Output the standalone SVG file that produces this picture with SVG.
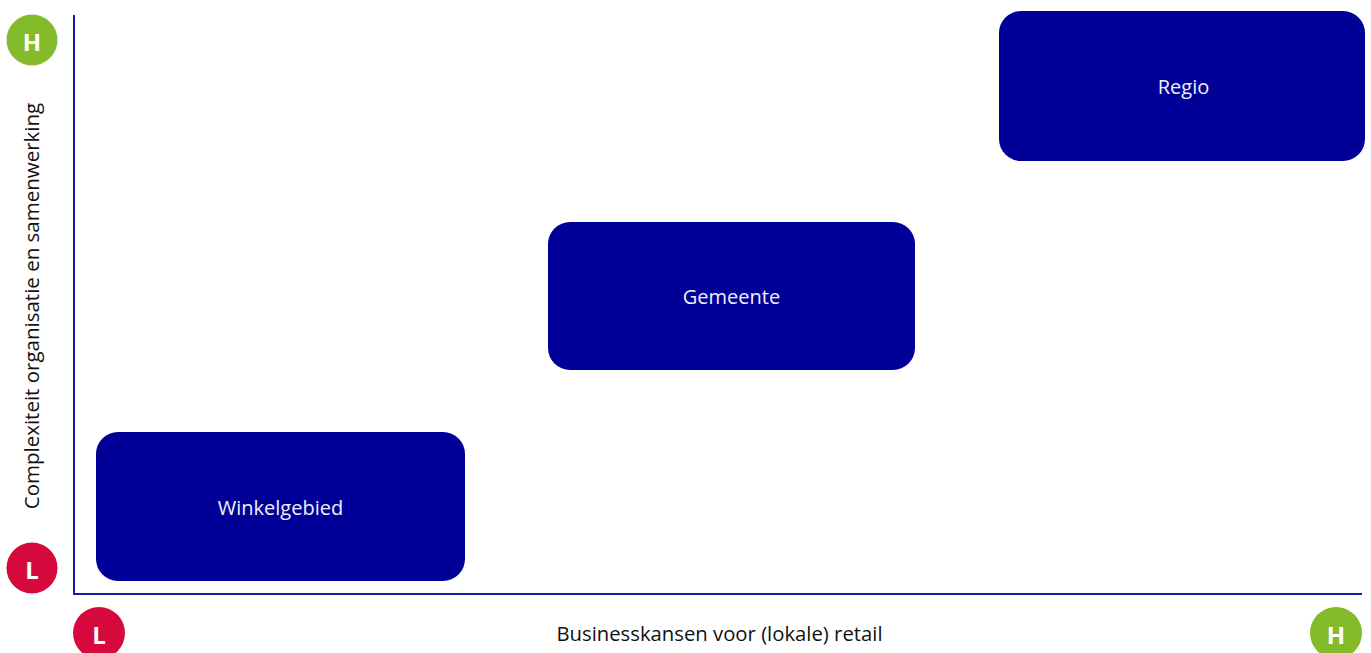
<svg xmlns="http://www.w3.org/2000/svg" width="1371" height="653" viewBox="0 0 1371 653">
  <style>
    .box { fill: #000099; }
    .box-label { font-family: "Open Sans", "Liberation Sans", sans-serif; font-size: 20px; fill: #f0f0f5; text-anchor: middle; dominant-baseline: central; }
    .axis { stroke: #1a1aa6; stroke-width: 2; fill: none; }
    .axis-label { font-family: "Open Sans", "Liberation Sans", sans-serif; font-size: 20px; fill: #111111; text-anchor: middle; }
    .hi { fill: #84bb2b; }
    .lo { fill: #d6093d; }
    .badge { font-family: "Open Sans", "Liberation Sans", sans-serif; font-size: 24px; font-weight: bold; fill: #ffffff; text-anchor: middle; dominant-baseline: central; }
  </style>
  <rect width="1371" height="653" fill="#ffffff"/>

  <!-- axes -->
  <g id="axes">
    <polyline class="axis" points="74,15 74,594 1362,594"/>
    <text class="axis-label" x="719.5" y="641" style="font-size:20.3px">Businesskansen voor (lokale) retail</text>
    <text class="axis-label" transform="translate(39,306) rotate(-90)" style="font-size:20.5px">Complexiteit organisatie en samenwerking</text>
  </g>

  <!-- scale markers -->
  <g id="y-high">
    <circle class="hi" cx="32" cy="40" r="25.5"/>
    <text class="badge" x="32" y="41">H</text>
  </g>
  <g id="y-low">
    <circle class="lo" cx="32" cy="568" r="25.5"/>
    <text class="badge" x="32" y="569">L</text>
  </g>
  <g id="x-low">
    <circle class="lo" cx="99" cy="633" r="26"/>
    <text class="badge" x="99" y="634">L</text>
  </g>
  <g id="x-high">
    <circle class="hi" cx="1336" cy="633" r="26"/>
    <text class="badge" x="1336" y="634">H</text>
  </g>

  <!-- levels -->
  <g id="winkelgebied">
    <rect class="box" x="96" y="432" width="369" height="149" rx="22"/>
    <text class="box-label" x="280.5" y="507">Winkelgebied</text>
  </g>
  <g id="gemeente">
    <rect class="box" x="548" y="222" width="367" height="148" rx="22"/>
    <text class="box-label" x="731.5" y="296">Gemeente</text>
  </g>
  <g id="regio">
    <rect class="box" x="999" y="11" width="366" height="150" rx="22"/>
    <text class="box-label" x="1183.5" y="86">Regio</text>
  </g>

  <!-- no connectors in this chart -->
  <g id="connectors"/>
</svg>
